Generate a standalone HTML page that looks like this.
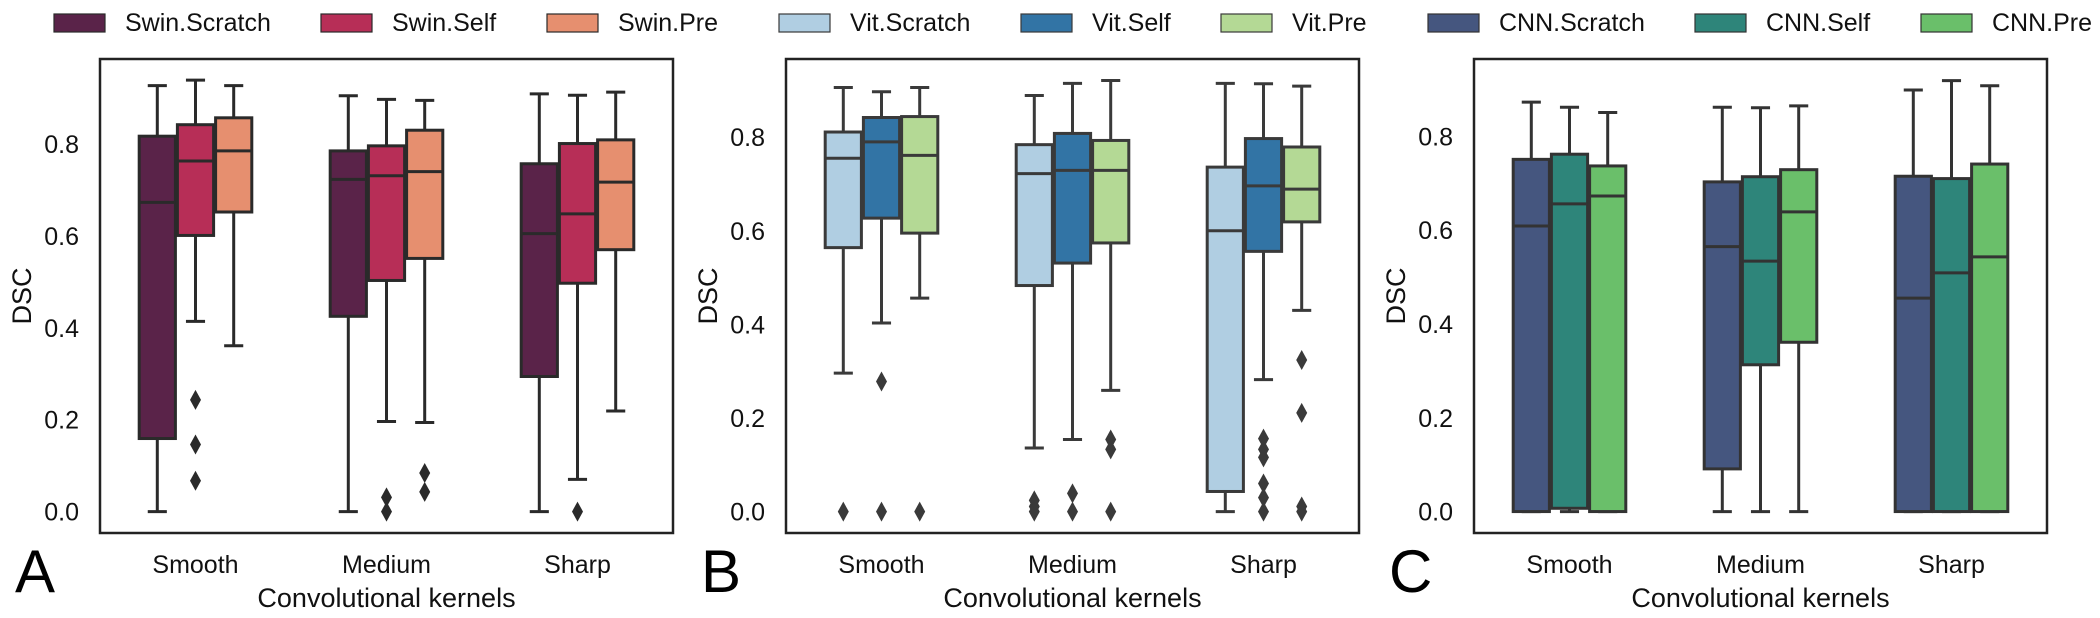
<!DOCTYPE html>
<html><head><meta charset="utf-8">
<style>
html,body{margin:0;padding:0;background:#fff;}
svg{display:block;font-family:"Liberation Sans",Arial,sans-serif;}
</style></head>
<body>
<svg id="fig" width="2100" height="618" viewBox="0 0 2100 618" xmlns="http://www.w3.org/2000/svg"></svg>
<script>
// ---- data ----
const categories = ["Smooth","Medium","Sharp"];
const yTicks = [0.0,0.2,0.4,0.6,0.8];
const yTickLabels = ["0.0","0.2","0.4","0.6","0.8"];
const panelLetters = ["A","B","C"];
const seriesNamesA = ["Swin.Scratch","Swin.Self","Swin.Pre"];
const seriesNamesB = ["Vit.Scratch","Vit.Self","Vit.Pre"];
const seriesNamesC = ["CNN.Scratch","CNN.Self","CNN.Pre"];
// each box: [lowWhisker, q1, median, q3, highWhisker], indexed [series][category]
const statsA = [
  [[0,0.159,0.673,0.817,0.927],[0,0.425,0.723,0.785,0.905],[0,0.294,0.605,0.757,0.909]],
  [[0.414,0.601,0.763,0.842,0.939],[0.196,0.503,0.731,0.796,0.897],[0.070,0.497,0.648,0.801,0.906]],
  [[0.361,0.652,0.785,0.857,0.927],[0.194,0.551,0.740,0.830,0.895],[0.219,0.570,0.717,0.809,0.913]]
];
const outliersA = [
  [[],[],[]],
  [[0.243,0.146,0.067],[0.031,0.0],[0.0]],
  [[],[0.084,0.043],[]]
];
const statsB = [
  [[0.296,0.564,0.755,0.811,0.906],[0.136,0.483,0.722,0.784,0.889],[0,0.043,0.600,0.736,0.915]],
  [[0.403,0.627,0.790,0.842,0.897],[0.154,0.531,0.729,0.808,0.915],[0.282,0.556,0.696,0.797,0.914]],
  [[0.456,0.595,0.761,0.844,0.906],[0.259,0.574,0.729,0.793,0.921],[0.430,0.619,0.689,0.779,0.909]]
];
const outliersB = [
  [[0.0],[0.024,0.011,0.0],[]],
  [[0.278,0.0],[0.039,0.0],[0.156,0.133,0.116,0.060,0.030,0.0]],
  [[0.0],[0.154,0.133,0.0],[0.324,0.211,0.011,0.0]]
];
const statsC = [
  [[0,0,0.609,0.751,0.873],[0,0.091,0.565,0.703,0.862],[0,0,0.455,0.715,0.899]],
  [[0,0.007,0.656,0.762,0.862],[0,0.313,0.534,0.714,0.861],[0,0,0.509,0.710,0.919]],
  [[0,0,0.673,0.737,0.851],[0,0.361,0.639,0.729,0.865],[0,0,0.543,0.741,0.908]]
];
const outliersC = [
  [[],[],[]],
  [[],[],[]],
  [[],[],[]]
];

// ---- styles / layout ----
const NS="http://www.w3.org/2000/svg";
const svg=document.getElementById('fig');
function mk(tag,attrs,parent){const e=document.createElementNS(NS,tag);for(const k in attrs)e.setAttribute(k,attrs[k]);(parent||svg).appendChild(e);return e;}

const panels=[
  {left:100,ymin:-0.0466,ymax:0.985,stats:statsA,outs:outliersA,names:seriesNamesA,colors:["#5a2349","#b72e57","#e68f6f"],edge:"#2a2a2a",legendX:[54,321,547]},
  {left:786,ymin:-0.0457,ymax:0.967,stats:statsB,outs:outliersB,names:seriesNamesB,colors:["#b0cee2","#3274a5","#b4d995"],edge:"#3a3a3a",legendX:[779,1021,1221]},
  {left:1474,ymin:-0.0457,ymax:0.965,stats:statsC,outs:outliersC,names:seriesNamesC,colors:["#45567f","#2e857a","#6abf6a"],edge:"#333333",legendX:[1428,1695,1921]}
];
const W=573, TOP=59, BOT=533;

panels.forEach((p,pi)=>{
  const g=mk('g',{});
  
  
  const y=v=>BOT-(v-p.ymin)/(p.ymax-p.ymin)*(BOT-TOP);
  const step=W/categories.length;
  const cx=i=>p.left+step*(i+0.5);
  const bw=step*0.6/3;
  // legend
  p.names.forEach((n,si)=>{
    const lx=p.legendX[si];
    const r=mk('rect',{x:lx,y:14,width:51,height:18,fill:p.colors[si],stroke:p.edge,'stroke-width':1.2},g);
    
    
    const t=mk('text',{x:lx+71,y:31,'font-size':25,fill:'#111'},g);
    t.textContent=n;
    
    
  });
  // ticks
  yTicks.forEach((v,ti)=>{
    const t=mk('text',{x:p.left-21,y:y(v)+9,'font-size':25,'text-anchor':'end',fill:'#111'},g);
    t.textContent=yTickLabels[ti];
    
    
  });
  categories.forEach((c,ci)=>{
    const t=mk('text',{x:cx(ci),y:573,'font-size':25,'text-anchor':'middle',fill:'#111'},g);
    t.textContent=c;
    
    
  });
  const yl=mk('text',{x:0,y:0,'font-size':27,'text-anchor':'middle',fill:'#111',transform:`translate(${p.left-69},${(TOP+BOT)/2}) rotate(-90)`},g);
  yl.textContent='DSC';
  
  
  const xl=mk('text',{x:p.left+W/2,y:607,'font-size':27,'text-anchor':'middle',fill:'#111'},g);
  xl.textContent='Convolutional kernels';
  
  
  const pl=mk('text',{x:p.left-85,y:592,'font-size':60,fill:'#000'},g);
  pl.textContent=panelLetters[pi];
  
  
  // boxes
  p.stats.forEach((ser,si)=>{
    ser.forEach((s,ci)=>{
      const bx=cx(ci)+(si-1)*bw;
      const bg=mk('g',{},g);
      
      
      const [lo,q1,md,q3,hi]=s;
      const sw=3;
      mk('line',{x1:bx,x2:bx,y1:y(q3),y2:y(hi),stroke:p.edge,'stroke-width':sw},bg);
      mk('line',{x1:bx,x2:bx,y1:y(q1),y2:y(lo),stroke:p.edge,'stroke-width':sw},bg);
      mk('line',{x1:bx-bw/4,x2:bx+bw/4,y1:y(hi),y2:y(hi),stroke:p.edge,'stroke-width':sw},bg);
      mk('line',{x1:bx-bw/4,x2:bx+bw/4,y1:y(lo),y2:y(lo),stroke:p.edge,'stroke-width':sw},bg);
      mk('rect',{x:bx-bw/2+1,y:y(q3),width:bw-2,height:Math.max(0.5,y(q1)-y(q3)),fill:p.colors[si],stroke:p.edge,'stroke-width':sw},bg);
      mk('line',{x1:bx-bw/2+1,x2:bx+bw/2-1,y1:y(md),y2:y(md),stroke:p.edge,'stroke-width':sw},bg);
      p.outs[si][ci].forEach(v=>{
        const oy=y(v);
        const d=mk('path',{d:`M${bx},${oy-10} L${bx+5.5},${oy} L${bx},${oy+10} L${bx-5.5},${oy} Z`,fill:p.edge},bg);
        
        
      });
    });
  });
  const fr=mk('rect',{x:p.left,y:TOP,width:W,height:BOT-TOP,fill:'none',stroke:'#222','stroke-width':2.5},g);
  
  
});
</script>
</body></html>
